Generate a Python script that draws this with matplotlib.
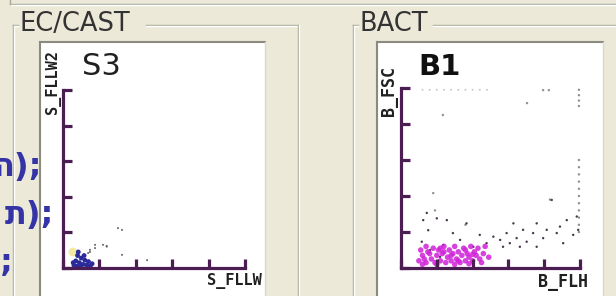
from matplotlib import pyplot as plt
from matplotlib.lines import Line2D
from matplotlib.patches import Rectangle

# ---- data (axis units 0..5) ----
s3_blue_x = [0.30, 0.35, 0.40, 0.42, 0.45, 0.50, 0.55, 0.60, 0.65, 0.70, 0.75, 0.80, 0.28, 0.38, 0.48, 0.58]
s3_blue_y = [0.08, 0.20, 0.35, 0.45, 0.15, 0.28, 0.10, 0.22, 0.08, 0.18, 0.05, 0.12, 0.15, 0.05, 0.05, 0.35]
s3_gray_x = [0.74, 0.88, 1.10, 1.20, 0.69, 1.51, 1.62, 0.88, 1.20, 1.62, 2.31, 0.74]
s3_gray_y = [0.45, 0.56, 0.65, 0.62, 0.42, 1.12, 1.07, 0.65, 0.60, 0.37, 0.22, 0.51]

b1_pink_x = [0.50, 0.60, 0.70, 0.75, 0.85, 0.90, 0.95, 1.00, 1.05, 1.10, 1.15, 1.20, 1.25, 1.30, 1.35,
             1.40, 1.45, 1.50, 1.55, 1.60, 1.65, 1.70, 1.75, 1.80, 1.85, 1.90, 1.95, 2.00, 2.05, 2.10,
             2.15, 2.20, 2.30, 2.35, 2.45, 0.55, 0.65, 0.80, 1.00, 1.20, 1.40, 1.60, 1.80, 2.00, 0.70,
             1.10, 1.50, 1.90, 2.25, 0.60]
b1_pink_y = [0.20, 0.35, 0.15, 0.45, 0.25, 0.55, 0.15, 0.35, 0.50, 0.20, 0.40, 0.60, 0.15, 0.30, 0.50,
             0.20, 0.40, 0.60, 0.25, 0.45, 0.15, 0.35, 0.55, 0.20, 0.40, 0.30, 0.60, 0.20, 0.45, 0.35,
             0.55, 0.25, 0.40, 0.60, 0.30, 0.50, 0.25, 0.40, 0.10, 0.45, 0.35, 0.20, 0.50, 0.38, 0.60,
             0.55, 0.10, 0.12, 0.15, 0.10]
b1_dark_x = [0.58, 0.76, 1.00, 1.28, 1.18, 1.65, 1.83, 2.02, 2.39, 2.58, 2.77, 2.95, 3.14, 3.23, 3.41,
             3.51, 3.69, 3.79, 3.97, 4.07, 4.21, 4.35, 4.53, 4.63, 4.81, 4.95, 2.85, 2.20, 1.45, 0.81,
             1.09, 0.72, 0.62, 3.04, 3.32, 3.79, 4.44, 4.91]
b1_dark_y = [0.73, 1.05, 1.38, 1.33, 0.64, 0.78, 1.24, 0.59, 0.69, 0.87, 0.78, 0.97, 1.24, 0.83, 1.06,
             0.73, 0.97, 1.24, 0.83, 1.06, 1.89, 0.97, 0.69, 1.33, 0.92, 1.06, 0.59, 0.92, 0.97, 0.50,
             0.31, 1.53, 1.33, 0.69, 0.59, 0.59, 1.15, 1.43]
b1_gray_x = [4.97, 4.97, 4.97, 4.97, 4.97, 4.97, 4.97, 4.97, 4.97, 4.97, 4.97, 4.97, 4.97, 4.97, 4.97,
             3.52, 3.97, 4.13, 0.90, 0.95, 1.80, 4.16, 1.17]
b1_gray_y = [1.0, 1.2, 1.4, 1.6, 1.8, 2.0, 2.2, 2.4, 2.6, 2.8, 3.0, 4.5, 4.65, 4.8, 4.95,
             4.58, 4.94, 4.94, 2.08, 1.6, 1.2, 1.9, 4.25]
b1_row_x = [0.6, 0.8, 1.0, 1.2, 1.4, 1.6, 1.8, 2.0, 2.2, 2.4]
b1_row_y = [4.95, 4.95, 4.95, 4.95, 4.95, 4.95, 4.95, 4.95, 4.95, 4.95]

code_lines = ['ה);', 'ת);', ';']

W, H = 616, 296
BG = '#ece9d8'
AXC = '#4b1d52'
EDGE = '#a8a898'


def fx(px):
    return px / W


def fy(py):
    return 1 - py / H


def hline(fig, y, x0, x1, c=EDGE, lw=1.0):
    fig.add_artist(Line2D([fx(x0), fx(x1)], [fy(y), fy(y)], color=c, lw=lw, transform=fig.transFigure))


def vline(fig, x, y0, y1, c=EDGE, lw=1.0):
    fig.add_artist(Line2D([fx(x), fx(x)], [fy(y0), fy(y1)], color=c, lw=lw, transform=fig.transFigure))


def panel(fig, x0, x1, y0, y1):
    fig.add_artist(Rectangle((fx(x0), fy(y1)), (x1 - x0) / W, (y1 - y0) / H, facecolor='white',
                             edgecolor='none', transform=fig.transFigure, zorder=0))
    hline(fig, y0, x0, x1, c='#8a8a80', lw=1.5)
    vline(fig, x0, y0, y1, c='#8a8a80', lw=1.5)
    vline(fig, x1, y0, y1, c='#d8d8d0', lw=1.0)


def scatter_axes(fig, x0, x1, y0, y1):
    ax = fig.add_axes([fx(x0), fy(y1), (x1 - x0) / W, (y1 - y0) / H])
    ax.set_facecolor('none')
    ax.set_xlim(0, 5)
    ax.set_ylim(0, 5)
    for s in ['top', 'right']:
        ax.spines[s].set_visible(False)
    for s in ['left', 'bottom']:
        ax.spines[s].set_color(AXC)
        ax.spines[s].set_linewidth(2.3)
    ax.set_xticks([0, 1, 2, 3, 4, 5])
    ax.set_yticks([0, 1, 2, 3, 4, 5])
    ax.tick_params(direction='in', length=6.5, width=2.3, color=AXC,
                   labelbottom=False, labelleft=False)
    return ax


fig = plt.figure(figsize=(W / 100, H / 100), dpi=100, facecolor=BG)

# outer frame remains at the top
hline(fig, 4, 10, W)
hline(fig, 5, 11, W, c='white')
vline(fig, 10, 0, 4)

# EC/CAST group box
hline(fig, 25, 13, 18)
hline(fig, 25, 146, 298)
hline(fig, 26, 14, 18, c='white')
hline(fig, 26, 146, 297, c='white')
vline(fig, 13, 25, H)
vline(fig, 14, 26, H, c='white')
vline(fig, 298, 25, H)
vline(fig, 299, 25, H, c='white')
fig.text(fx(20), fy(24), 'EC/CAST', fontsize=18.5, color='#333333', va='center', ha='left')

# BACT group box
hline(fig, 25, 353, 358)
hline(fig, 25, 433, W)
hline(fig, 26, 354, 358, c='white')
hline(fig, 26, 433, W, c='white')
vline(fig, 353, 25, H)
vline(fig, 354, 26, H, c='white')
fig.text(fx(360), fy(24), 'BACT', fontsize=18.5, color='#333333', va='center', ha='left')

# plot panels
panel(fig, 40, 265, 42, H + 2)
panel(fig, 377, 603, 42, H + 2)

# S3 scatter
ax1 = scatter_axes(fig, 63, 245, 90, 268)
ax1.scatter([0.27], [0.45], s=40, color='#f3eaa0', edgecolors='none', clip_on=False)
ax1.scatter(s3_gray_x, s3_gray_y, s=2, color='#606060', edgecolors='none', clip_on=False)
ax1.scatter(s3_blue_x, s3_blue_y, s=12, color='#2a2a9a', edgecolors='none', clip_on=False)
fig.text(fx(82), fy(66), 'S3', fontsize=22, color='#202020', va='center', ha='left')
fig.text(fx(53), fy(82), 'S_FLLW2', fontsize=11, color='#202020', rotation=90,
         family='DejaVu Sans Mono', weight='bold', va='center', ha='center')
fig.text(fx(262), fy(281), 'S_FLLW', fontsize=11, color='#202020',
         family='DejaVu Sans Mono', weight='bold', va='center', ha='right')

# B1 scatter
ax2 = scatter_axes(fig, 401, 580, 88, 268)
ax2.scatter(b1_row_x, b1_row_y, s=2, color='#c8c8c8', edgecolors='none', clip_on=False)
ax2.scatter(b1_gray_x, b1_gray_y, s=3, color='#909090', edgecolors='none', clip_on=False)
ax2.scatter(b1_dark_x, b1_dark_y, s=3, color='#4a3a50', edgecolors='none', clip_on=False)
ax2.scatter(b1_pink_x, b1_pink_y, s=16, color='#d020d8', alpha=0.85, edgecolors='none', clip_on=False)
fig.text(fx(418), fy(67), 'B1', fontsize=21, color='#101010', weight='bold', va='center', ha='left')
fig.text(fx(389), fy(91), 'B_FSC', fontsize=12, color='#202020', rotation=90,
         family='DejaVu Sans Mono', weight='bold', va='center', ha='center')
fig.text(fx(588), fy(282), 'B_FLH', fontsize=12, color='#202020',
         family='DejaVu Sans Mono', weight='bold', va='center', ha='right')

# overlapping blue code fragments on the left edge (cut by the window edge)
for i, t in enumerate(code_lines):
    x = [-8, 5, 0][i]
    fig.text(fx(x), fy(176 + 48 * i), t, fontsize=23, color='#3434a6', weight='bold',
             va='baseline', ha='left', zorder=10)

fig.savefig('out.png', dpi=100, facecolor=BG)
